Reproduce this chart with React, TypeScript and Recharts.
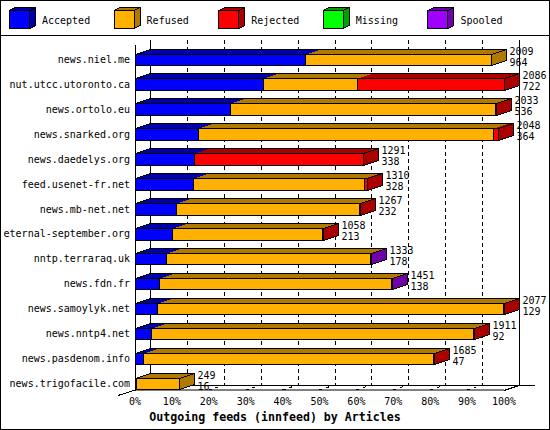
import React from 'react';
import { BarChart, Bar, XAxis, YAxis, CartesianGrid } from 'recharts';

const HOSTS = [
  'news.niel.me',
  'nut.utcc.utoronto.ca',
  'news.ortolo.eu',
  'news.snarked.org',
  'news.daedelys.org',
  'feed.usenet-fr.net',
  'news.mb-net.net',
  'eternal-september.org',
  'nntp.terraraq.uk',
  'news.fdn.fr',
  'news.samoylyk.net',
  'news.nntp4.net',
  'news.pasdenom.info',
  'news.trigofacile.com',
];

// percentages
const ACCEPTED = [46.0, 34.6, 25.7, 17.2, 15.9, 15.6, 11.1, 10.0, 8.3, 6.5, 5.9, 4.3, 2.1, 0.4];
const REFUSED = [50.4, 25.5, 71.8, 79.8, 0, 46.5, 49.7, 40.7, 55.3, 62.9, 93.7, 87.3, 78.7, 11.6];
const REJECTED = [0, 39.9, 0.3, 1.4, 45.9, 0.8, 0.3, 0.3, 0, 0, 0.3, 0.3, 0.3, 0];
const MISSING = [0, 0, 0, 0, 0, 0, 0, 0, 0, 0, 0, 0, 0, 0];
const SPOOLED = [0, 0, 0, 0, 0, 0, 0, 0, 0.4, 0.3, 0, 0, 0, 0];

// the two numbers printed at the end of each bar
const TOTAL_LABELS = [2009, 2086, 2033, 2048, 1291, 1310, 1267, 1058, 1333, 1451, 2077, 1911, 1685, 249];
const SUB_LABELS = [964, 722, 536, 364, 338, 328, 232, 213, 178, 138, 129, 92, 47, 16];

const X_TICKS = [0, 10, 20, 30, 40, 50, 60, 70, 80, 90, 100];

const SERIES = [
  { key: 'accepted', name: 'Accepted', color: '#0000FF', dark: '#0000AA' },
  { key: 'refused', name: 'Refused', color: '#FFB000', dark: '#B07A00' },
  { key: 'rejected', name: 'Rejected', color: '#FF0000', dark: '#AA0000' },
  { key: 'missing', name: 'Missing', color: '#00FF00', dark: '#00A000' },
  { key: 'spooled', name: 'Spooled', color: '#A000FF', dark: '#7000AA' },
];
const KEYS = SERIES.map((s) => s.key);

const data = HOSTS.map((host, i) => ({
  host,
  accepted: ACCEPTED[i],
  refused: REFUSED[i],
  rejected: REJECTED[i],
  missing: MISSING[i],
  spooled: SPOOLED[i],
  total: TOTAL_LABELS[i],
  sub: SUB_LABELS[i],
}));

const W = 550;
const H = 430;
const DX = 15;
const DY = 5;
const FACE_H = 12.5;
const PLOT_LEFT = 135;
const PLOT_RIGHT = 504;
const PLOT_TOP = 41;
const PLOT_BOTTOM = 390;
const WALL_TOP = 40;
const FONT = '"DejaVu Sans Mono", "Liberation Mono", monospace';

function make3DBar(key: string) {
  const s = SERIES.find((t) => t.key === key)!;
  return function Bar3D(props: any) {
    const { x, y, width, height, payload } = props;
    if (!payload || !(payload[key] > 0) || x == null) return <g />;
    const present = KEYS.filter((k) => payload[k] > 0);
    const first = present[0] === key;
    const last = present[present.length - 1] === key;

    const x0 = Math.round(x) + 0.5;
    const x1 = Math.round(x + width) + 0.5;
    const yb = Math.round(y + height) - 0.5;
    const yt = Math.round(y + height - FACE_H) + 0.5;

    const top = `${x0},${yt} ${x1},${yt} ${x1 + DX},${yt - DY} ${x0 + DX},${yt - DY}`;
    const side = `${x1},${yt} ${x1 + DX},${yt - DY} ${x1 + DX},${yb - DY} ${x1},${yb}`;

    return (
      <g shapeRendering="crispEdges">
        <polygon points={top} fill={s.dark} stroke="none" />
        <line x1={x0 + DX} y1={yt - DY} x2={x1 + DX} y2={yt - DY} stroke="#000" />
        {first && <line x1={x0} y1={yt} x2={x0 + DX} y2={yt - DY} stroke="#000" />}
        <rect x={x0} y={yt} width={x1 - x0} height={yb - yt} fill={s.color} stroke="#000" />
        {last && <polygon points={side} fill={s.dark} stroke="#000" />}
        {last && (
          <text x={x1 + DX + 3} y={yt} fontFamily={FONT} fontSize={10} fill="#000">
            {payload.total}
          </text>
        )}
        {last && (
          <text x={x1 + DX + 3} y={yt + 11.7} fontFamily={FONT} fontSize={10} fill="#000">
            {payload.sub}
          </text>
        )}
      </g>
    );
  };
}

function HostTick({ x, y, payload }: any) {
  return (
    <text x={x} y={y + 9.5} textAnchor="end" fontFamily={FONT} fontSize={10} fill="#000">
      {payload.value}
    </text>
  );
}

function LegendItem({ x, name, color, dark }: { x: number; name: string; color: string; dark: string }) {
  const y = 10.5;
  const w = 20;
  const h = 18;
  const dx = 6;
  const dy = 3;
  return (
    <g shapeRendering="crispEdges">
      <polygon points={`${x},${y} ${x + w},${y} ${x + w + dx},${y - dy} ${x + dx},${y - dy}`} fill={dark} stroke="#000" />
      <polygon points={`${x + w},${y} ${x + w + dx},${y - dy} ${x + w + dx},${y + h - dy} ${x + w},${y + h}`} fill={dark} stroke="#000" />
      <rect x={x} y={y} width={w} height={h} fill={color} stroke="#000" />
      <text x={x + 32.5} y={24} fontFamily={FONT} fontSize={10} fill="#000" shapeRendering="auto">
        {name}
      </text>
    </g>
  );
}

function Frame() {
  const backLeft = PLOT_LEFT + DX;
  const backRight = PLOT_RIGHT + DX;
  const floorBack = PLOT_BOTTOM - DY;
  const step = (PLOT_RIGHT - PLOT_LEFT) / 10;
  return (
    <svg width={W} height={H} style={{ position: 'absolute', left: 0, top: 0 }}>
      <rect x={0.5} y={0.5} width={W - 1} height={H - 1} fill="#fff" stroke="#000" />
      <line x1={0} y1={35.5} x2={W} y2={35.5} stroke="#000" />
      {SERIES.map((s, i) => (
        <LegendItem key={s.key} x={9.5 + i * 104.6} name={s.name} color={s.color} dark={s.dark} />
      ))}
      <g shapeRendering="crispEdges" stroke="#000">
        <line x1={backLeft + 0.5} y1={WALL_TOP} x2={backLeft + 0.5} y2={floorBack} />
        <line x1={backRight + 0.5} y1={WALL_TOP} x2={backRight + 0.5} y2={floorBack} />
        <line x1={PLOT_LEFT + 0.5} y1={WALL_TOP + DY} x2={PLOT_LEFT + 0.5} y2={PLOT_BOTTOM} />
        <line x1={backLeft} y1={floorBack + 0.5} x2={535} y2={floorBack + 0.5} />
        <line x1={PLOT_RIGHT} y1={PLOT_BOTTOM + 0.5} x2={backRight} y2={floorBack + 0.5} />
        <line x1={118} y1={PLOT_BOTTOM + 5.5} x2={backLeft} y2={floorBack + 0.5} />
        {X_TICKS.slice(1, -1).map((t, i) => (
          <line
            key={t}
            x1={PLOT_LEFT + (i + 1) * step}
            y1={PLOT_BOTTOM}
            x2={PLOT_LEFT + (i + 1) * step + DX}
            y2={floorBack}
            strokeDasharray="3 4"
          />
        ))}
      </g>
      <text
        x={W / 2}
        y={420.5}
        textAnchor="middle"
        fontFamily={FONT}
        fontWeight="bold"
        fontSize={11.6}
        fill="#000"
      >
        Outgoing feeds (innfeed) by Articles
      </text>
    </svg>
  );
}

export default function App() {
  return (
    <div style={{ position: 'absolute', left: 0, top: 0, width: W, height: H }}>
      <Frame />
      <div style={{ position: 'absolute', left: 0, top: 0 }}>
        <BarChart
          width={W}
          height={H}
          data={data}
          layout="vertical"
          barCategoryGap={0}
          margin={{ top: PLOT_TOP, right: W - PLOT_RIGHT, bottom: 10, left: 0 }}
        >
          <CartesianGrid
            horizontal={false}
            y={WALL_TOP}
            height={PLOT_BOTTOM - DY - WALL_TOP}
            stroke="#000"
            strokeDasharray="4 3"
            verticalCoordinatesGenerator={({ offset }: any) => {
              const left = offset?.left ?? PLOT_LEFT;
              const width = offset?.width ?? PLOT_RIGHT - PLOT_LEFT;
              return X_TICKS.slice(1, -1).map((t) => Math.round(left + (width * t) / 100 + DX) + 0.5);
            }}
          />
          <XAxis
            type="number"
            domain={[0, 100]}
            ticks={X_TICKS}
            interval={0}
            height={30}
            tickFormatter={(v: number) => `${v}%`}
            tickLine={false}
            axisLine={{ stroke: '#000' }}
            tick={{ fontFamily: FONT, fontSize: 10, fill: '#000' }}
          />
          <YAxis
            type="category"
            dataKey="host"
            width={PLOT_LEFT}
            interval={0}
            tickSize={0}
            tickMargin={5}
            tickLine={false}
            axisLine={false}
            tick={<HostTick />}
          />
          {SERIES.map((s) => (
            <Bar
              key={s.key}
              dataKey={s.key}
              name={s.name}
              stackId="feeds"
              fill={s.color}
              isAnimationActive={false}
              shape={make3DBar(s.key)}
            />
          ))}
        </BarChart>
      </div>
    </div>
  );
}
